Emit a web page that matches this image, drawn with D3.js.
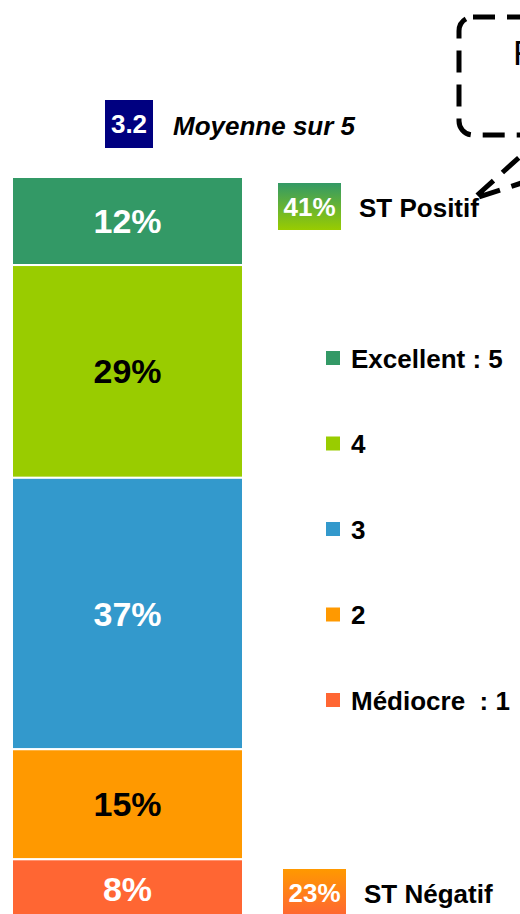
<!DOCTYPE html>
<html>
<head>
<meta charset="utf-8">
<script src="https://cdn.jsdelivr.net/npm/d3@7"></script>
<style>
  html, body { margin: 0; padding: 0; background: #fff; overflow: hidden; }
  svg { display: block; font-family: 'Liberation Sans', Arial, sans-serif; }
</style>
</head>
<body>
<div id="chart"></div>
<script>
const categories = ['Excellent : 5', '4', '3', '2', 'Médiocre  : 1'];
const values = [12, 29, 37, 15, 8];
const colours = ['#339966', '#99CC00', '#3399CC', '#FF9900', '#FF6633'];
const labelColours = ['#fff', '#000', '#fff', '#000', '#fff'];
const meanScore = 3.2;
const meanLabel = 'Moyenne sur 5';
const stPositif = 41;
const stNegatif = 23;
const calloutText = 'F';

const width = 520;
const height = 914;

const svg = d3.select('#chart')
  .append('svg')
  .attr('width', width)
  .attr('height', height);

const defs = svg.append('defs');
const addGradient = (id, top, bottom) => {
  const g = defs.append('linearGradient')
    .attr('id', id)
    .attr('x1', 0).attr('y1', 0)
    .attr('x2', 0).attr('y2', 1);
  g.append('stop').attr('offset', '0%').attr('stop-color', top);
  g.append('stop').attr('offset', '100%').attr('stop-color', bottom);
};
addGradient('gradPos', colours[0], colours[1]);
addGradient('gradNeg', colours[3], colours[4]);

// stacked bar, top = Excellent
const stacked = [];
let acc = 0;
values.forEach((v, i) => {
  stacked.push({ cat: categories[i], value: v, y0: acc, y1: acc + v, i });
  acc += v;
});

const x = d3.scaleBand().domain(['all']).range([12, 243]);
const y = d3.scaleLinear().domain([0, d3.sum(values)]).range([177, 918]);

const bar = svg.append('g');
bar.selectAll('rect')
  .data(stacked)
  .enter().append('rect')
    .attr('x', x('all'))
    .attr('width', x.bandwidth())
    .attr('y', d => y(d.y0))
    .attr('height', d => y(d.y1) - y(d.y0))
    .attr('fill', d => colours[d.i])
    .attr('stroke', '#fff')
    .attr('stroke-width', 2);

bar.selectAll('text')
  .data(stacked)
  .enter().append('text')
    .attr('x', x('all') + x.bandwidth() / 2)
    .attr('y', d => (y(d.y0) + y(d.y1)) / 2 + 12)
    .attr('text-anchor', 'middle')
    .attr('font-size', 34)
    .attr('font-weight', 'bold')
    .attr('fill', d => labelColours[d.i])
    .text(d => d.value + '%');

// moyenne
svg.append('rect')
  .attr('x', 105).attr('y', 100)
  .attr('width', 48).attr('height', 48)
  .attr('fill', '#000080');
svg.append('text')
  .attr('x', 129).attr('y', 133)
  .attr('text-anchor', 'middle')
  .attr('font-size', 26)
  .attr('font-weight', 'bold')
  .attr('fill', '#fff')
  .text(meanScore.toFixed(1));
svg.append('text')
  .attr('x', 173).attr('y', 135)
  .attr('font-size', 26)
  .attr('font-weight', 'bold')
  .attr('font-style', 'italic')
  .text(meanLabel);

// sous-totaux
const totals = [
  { value: stPositif, label: 'ST Positif', x: 278, y: 183, fill: 'url(#gradPos)' },
  { value: stNegatif, label: 'ST Négatif', x: 283, y: 869, fill: 'url(#gradNeg)' }
];
const tot = svg.append('g').selectAll('g')
  .data(totals)
  .enter().append('g');
tot.append('rect')
  .attr('x', d => d.x).attr('y', d => d.y)
  .attr('width', 63).attr('height', 47)
  .attr('fill', d => d.fill);
tot.append('text')
  .attr('x', d => d.x + 31.5).attr('y', d => d.y + 33)
  .attr('text-anchor', 'middle')
  .attr('font-size', 26)
  .attr('font-weight', 'bold')
  .attr('fill', '#fff')
  .text(d => d.value + '%');
tot.append('text')
  .attr('x', d => d.x + 81).attr('y', d => d.y + 34)
  .attr('font-size', 26)
  .attr('font-weight', 'bold')
  .attr('fill', '#000')
  .text(d => d.label);

// legende
const ly = d3.scalePoint().domain(categories).range([358, 700]);
const legend = svg.append('g').selectAll('g')
  .data(categories)
  .enter().append('g')
    .attr('transform', d => `translate(326,${ly(d)})`);
legend.append('rect')
  .attr('x', 0).attr('y', -7)
  .attr('width', 14).attr('height', 14)
  .attr('fill', (d, i) => colours[i]);
legend.append('text')
  .attr('x', 25).attr('y', 9.5)
  .attr('font-size', 26)
  .attr('font-weight', 'bold')
  .attr('xml:space', 'preserve')
  .style('white-space', 'pre')
  .text(d => d);

// bulle en pointilles
const callout = svg.append('g')
  .attr('fill', 'none')
  .attr('stroke', '#000')
  .attr('stroke-width', 5)
  .attr('stroke-dasharray', '22 12');
callout.append('rect')
  .attr('x', 459).attr('y', 17)
  .attr('width', 300).attr('height', 118)
  .attr('rx', 14).attr('fill', '#fff');
callout.append('path')
  .attr('d', 'M544,135 L473,199 L667,135');
svg.append('text')
  .attr('x', 513).attr('y', 65)
  .attr('font-size', 35)
  .text(calloutText);
</script>
</body>
</html>
